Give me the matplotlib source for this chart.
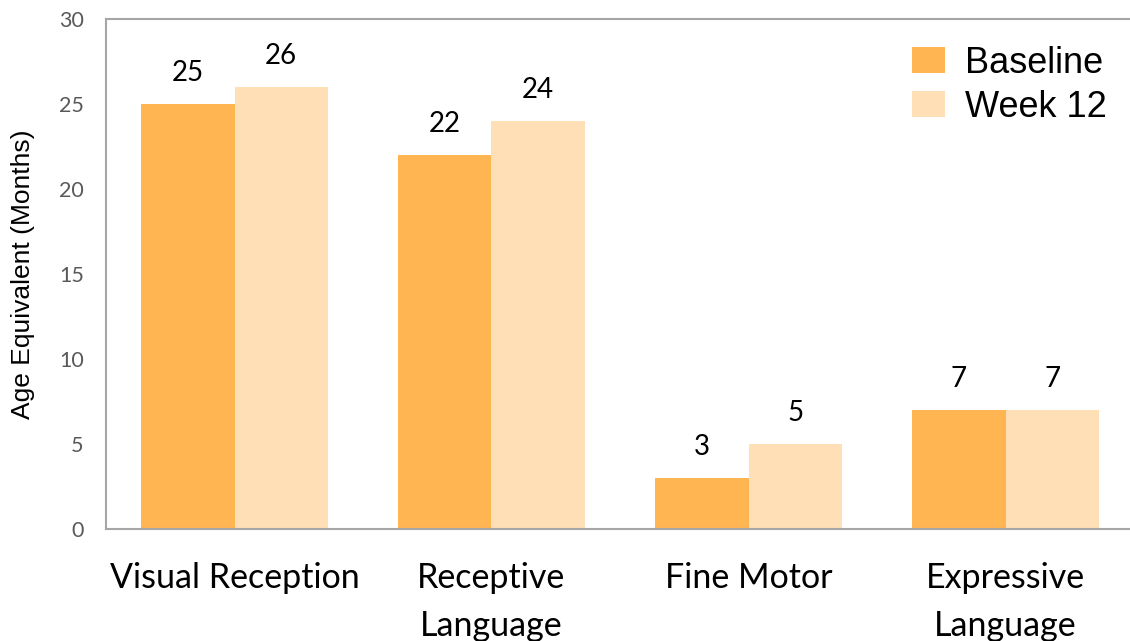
import numpy as np
import matplotlib.pyplot as plt

categories = ["Visual Reception", "Receptive\nLanguage", "Fine Motor", "Expressive\nLanguage"]
baseline = [25, 22, 3, 7]
week12 = [26, 24, 5, 7]

c_base = "#FFB552"
c_wk = "#FFE0B6"

fig = plt.figure(figsize=(11.3, 6.41), dpi=100)
ax = fig.add_axes([106 / 1130, 1 - 529 / 641, 1028 / 1130, 510 / 641])

x = np.arange(len(categories))
w = 0.364
b1 = ax.bar(x - w / 2, baseline, w, color=c_base, label="Baseline")
b2 = ax.bar(x + w / 2, week12, w, color=c_wk, label="Week 12")

# value labels above each bar
for bars, vals in [(b1, baseline), (b2, week12)]:
    for r, v in zip(bars, vals):
        ax.annotate(str(v), (r.get_x() + r.get_width() / 2, v),
                    xytext=(0, 13), textcoords="offset points",
                    ha="center", va="bottom", fontsize=20, family="Lato")

ax.set_xlim(-0.5, 3.5)
ax.set_ylim(0, 30)
ax.set_yticks(range(0, 31, 5))
ax.set_xticks(x)
ax.set_xticklabels(categories, fontsize=24.5, family="Lato", linespacing=1.6)
ax.tick_params(axis="x", length=0, pad=24)
ax.tick_params(axis="y", length=0, pad=16, labelsize=15.5, labelcolor="#595959")
for t in ax.get_yticklabels():
    t.set_family("Lato")
ax.set_ylabel("Age Equivalent (Months)", fontsize=19, family="Liberation Sans", labelpad=17)

for s in ["left", "bottom", "top"]:
    ax.spines[s].set_color("#A6A6A6")
    ax.spines[s].set_linewidth(1.5)
ax.spines["right"].set_visible(False)

ax.legend(loc="upper right", bbox_to_anchor=(0.995, 0.99), frameon=False,
          prop={"family": "Liberation Sans", "size": 26},
          handlelength=0.92, handleheight=0.72, handletextpad=0.55, labelspacing=0.25,
          borderaxespad=0.2)

plt.savefig("out.png", dpi=100)
